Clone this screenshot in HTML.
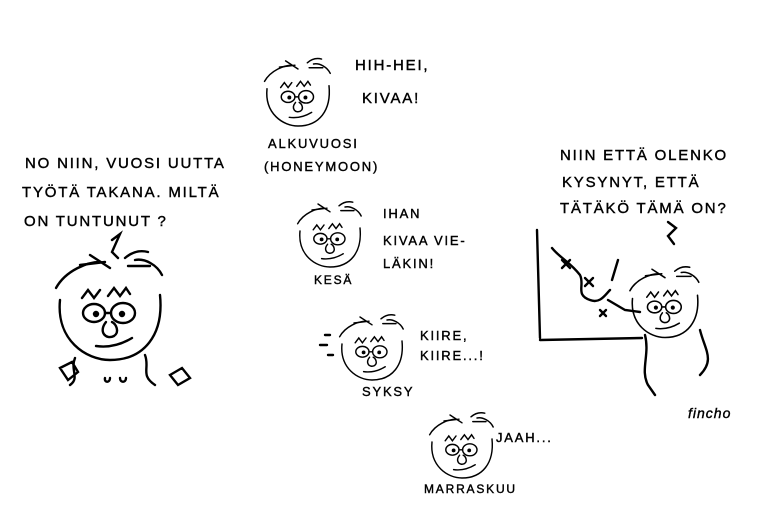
<!DOCTYPE html>
<html><head><meta charset="utf-8"><style>
html,body{margin:0;padding:0;background:#fff}
svg{display:block}
text{font-family:"Liberation Sans",sans-serif;font-size:15px;letter-spacing:1.8px;fill:#000;stroke:#000;stroke-width:0.4}
</style></head><body>
<svg width="764" height="530" viewBox="0 0 764 530" xmlns="http://www.w3.org/2000/svg" fill="none" stroke="#000" stroke-width="2.4" stroke-linecap="round">
<defs>
<g id="face">
  <path d="M-50,-10 C-54,30 -24,50 0,50 C34,50 54,25 50,-15"/>
  <path d="M-54,-22 C-44,-40 -22,-48 -10,-48"/>
  <path d="M-30,-45 L-5,-48 M-20,-55 L0,-42 M15,-52 C22,-58 30,-60 38,-58 M18,-44 L40,-44 M25,-50 C35,-52 47,-45 52,-35"/>
  <path d="M-28,-12 L-22,-20 L-16,-12 L-10,-20 M-2,-14 L4,-22 L10,-14 L16,-22 L20,-16"/>
  <ellipse cx="-16" cy="3" rx="11" ry="9"/><ellipse cx="13" cy="3" rx="12" ry="10"/>
  <path d="M-5,3 L1,3"/><circle cx="-14" cy="4" r="2" fill="#000"/><circle cx="12" cy="4" r="2" fill="#000"/>
  <path d="M-4,12 C-12,22 -4,30 4,26 C10,22 6,14 2,12"/>
  <path d="M-14,36 C0,38 12,34 22,28"/>
</g>
</defs>
<text x="25" y="168">NO NIIN, VUOSI UUTTA</text>
<text x="22" y="197">TYÖTÄ TAKANA. MILTÄ</text>
<text x="24" y="226">ON TUNTUNUT ?</text>
<path d="M112,240 L120,234 L112,252 L118,258"/>
<use href="#face" transform="translate(110,310)"/>
<path d="M75,358 C70,370 80,378 70,385 M60,368 L72,362 L78,372 L68,380 Z M145,355 C150,368 140,375 155,385 M170,375 L182,368 L190,378 L178,385 Z M105,378 C104,383 110,383 110,378 M120,378 C120,383 126,383 126,378"/>
<use href="#face" transform="translate(298,95) scale(0.62)"/>
<text x="355" y="70">HIH-HEI,</text>
<text x="362" y="103">KIVAA!</text>
<text x="268" y="148" style="font-size:13px">ALKUVUOSI</text>
<text x="264" y="171" style="font-size:13px">(HONEYMOON)</text>
<use href="#face" transform="translate(330,237) scale(0.6)"/>
<text x="383" y="218" style="font-size:13px">IHAN</text>
<text x="383" y="245" style="font-size:13px">KIVAA VIE-</text>
<text x="383" y="268" style="font-size:13px">LÄKIN!</text>
<text x="314" y="284" style="font-size:12px">KESÄ</text>
<use href="#face" transform="translate(372,350) scale(0.6)"/>
<path d="M325,335 L330,335 M320,345 L327,345 M328,355 L333,355"/>
<text x="420" y="340" style="font-size:13px">KIIRE,</text>
<text x="420" y="360" style="font-size:13px">KIIRE...!</text>
<text x="362" y="396" style="font-size:13px">SYKSY</text>
<use href="#face" transform="translate(462,448) scale(0.6)"/>
<text x="496" y="442" style="font-size:13px">JAAH...</text>
<text x="424" y="493" style="font-size:12px">MARRASKUU</text>
<text x="560" y="160">NIIN ETTÄ OLENKO</text>
<text x="562" y="187">KYSYNYT, ETTÄ</text>
<text x="560" y="213">TÄTÄKÖ TÄMÄ ON?</text>
<path d="M668,222 L676,228 L668,236 L674,244"/>
<path d="M537,230 L540,338 M540,340 L642,338"/>
<path d="M552,248 C560,258 570,262 580,275 C585,285 575,295 590,300 C600,304 605,295 610,290"/>
<path d="M562,260 L570,268 M570,260 L562,268 M585,278 L593,286 M593,278 L585,286 M600,310 L606,316 M606,310 L600,316"/>
<path d="M618,260 L612,280"/>
<use href="#face" transform="translate(665,305) scale(0.65)"/>
<path d="M608,300 L625,310 L640,312 M645,335 C650,355 640,370 648,385 L655,395 M700,330 C705,350 715,360 700,375"/>
<text x="688" y="418" style="font-size:14px;letter-spacing:1px;font-style:italic">fincho</text>
</svg>
</body></html>
